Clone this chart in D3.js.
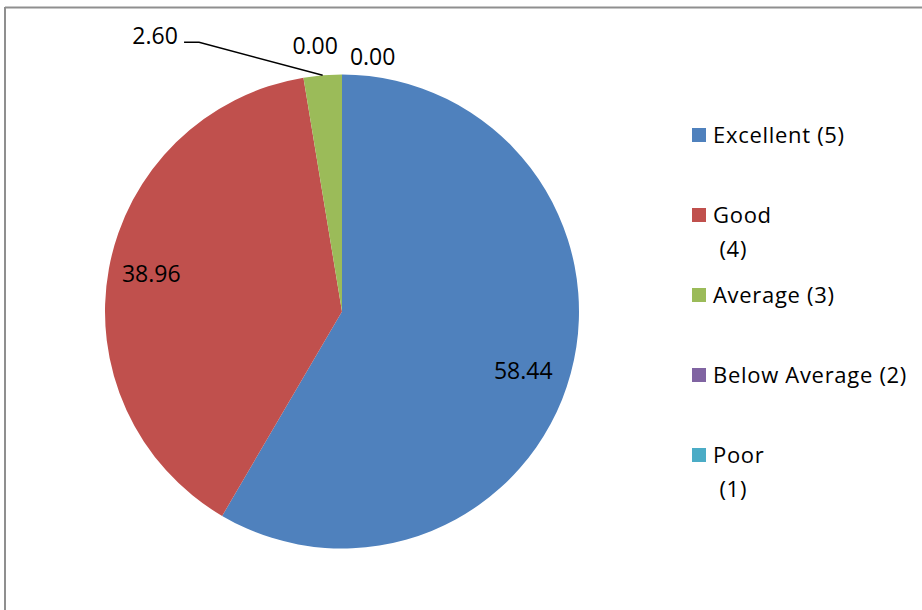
<!DOCTYPE html>
<html>
<head>
<meta charset="utf-8">
<script src="https://cdn.jsdelivr.net/npm/d3@7"></script>
<style>
  html, body { margin: 0; padding: 0; background: #fff; }
  svg { display: block; }
  text { font-family: "Open Sans", "Liberation Sans", sans-serif; fill: #000; }
</style>
</head>
<body>
<svg id="chart" width="922" height="610"></svg>
<script>
// ---- data ----
const categories = ["Excellent (5)", "Good (4)", "Average (3)", "Below Average (2)", "Poor (1)"];
const legendLines = [["Excellent (5)"], ["Good", " (4)"], ["Average (3)"], ["Below Average (2)"], ["Poor", " (1)"]];
const values = [58.44, 38.96, 2.60, 0.00, 0.00];
const valueLabels = ["58.44", "38.96", "2.60", "0.00", "0.00"];
const colors = ["#4F81BD", "#C0504D", "#9BBB59", "#8064A2", "#4BACC6"];

const svg = d3.select("#chart");
const W = 922, H = 610;

// chart frame (only left and top edges visible)
svg.append("line").attr("x1", 5).attr("y1", 7.5).attr("x2", W + 2).attr("y2", 7.5)
  .attr("stroke", "#8f8f8f").attr("stroke-width", 2);
svg.append("line").attr("x1", 5).attr("y1", 7).attr("x2", 5).attr("y2", H + 2)
  .attr("stroke", "#8f8f8f").attr("stroke-width", 2);

const cx = 342, cy = 311.5, r = 237;
const g = svg.append("g").attr("transform", `translate(${cx},${cy})`);

const pie = d3.pie().sort(null).value(d => d).startAngle(0).endAngle(2 * Math.PI);
const arcs = pie(values);
const arc = d3.arc().innerRadius(0).outerRadius(r);

g.selectAll("path.slice").data(arcs).enter().append("path")
  .attr("class", "slice")
  .attr("d", arc)
  .attr("fill", (d, i) => colors[i]);

// labels
const labelSize = 23, legendSize = 22;
const polar = (ang, rad) => [Math.sin(ang) * rad, -Math.cos(ang) * rad];
const deg = Math.PI / 180;
// in-slice label placement tweaks (angle nudge, radius factor), like Excel's "best fit"
const inside = [[3 * deg, 0.805], [0.5 * deg, 0.82]];

arcs.forEach((d, i) => {
  const mid = (d.startAngle + d.endAngle) / 2;
  let x, y;
  if (d.endAngle - d.startAngle > 0.5) {
    const [da, rf] = inside[i] || [0, 0.8];
    [x, y] = polar(mid + da, r * rf);
  } else if (values[i] > 0) {
    // outside label with leader line
    const p0 = polar(mid, r);
    const elbow = [p0[0] - 123.6, p0[1] - 33];
    g.append("polyline")
      .attr("points", [p0, elbow, [elbow[0] - 15, elbow[1]]].map(p => p.join(",")).join(" "))
      .attr("fill", "none").attr("stroke", "#000").attr("stroke-width", 1.5);
    x = elbow[0] - 15 - 29; y = elbow[1] - 6;
  } else {
    // zero-value labels spread around the top
    const k = i - 3;
    const ang = k === 0 ? -0.101 : 0.12;
    const rad = k === 0 ? r * 1.125 : r * 1.08;
    [x, y] = polar(mid + ang, rad);
  }
  g.append("text")
    .attr("x", x).attr("y", y)
    .attr("text-anchor", "middle")
    .attr("dy", "0.35em")
    .style("font-size", labelSize + "px")
    .text(valueLabels[i]);
});

// legend
const legendY = d3.scalePoint().domain(categories).range([135, 455]);
const legend = svg.append("g");
categories.forEach((c, i) => {
  const yc = legendY(c);
  legend.append("rect")
    .attr("x", 692).attr("y", yc - 7).attr("width", 14).attr("height", 14)
    .attr("fill", colors[i]);
  const t = legend.append("text").attr("x", 713).attr("y", yc + 7.5)
    .style("font-size", legendSize + "px").style("letter-spacing", "0.7px")
    .attr("xml:space", "preserve");
  legendLines[i].forEach((ln, j) => {
    t.append("tspan").attr("x", 713).attr("dy", j === 0 ? 0 : 34)
      .attr("xml:space", "preserve").text(ln);
  });
});
</script>
</body>
</html>
